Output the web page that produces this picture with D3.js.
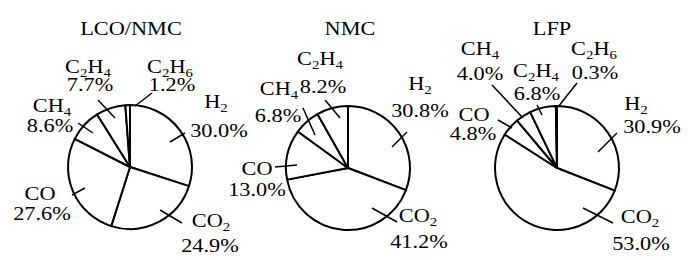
<!DOCTYPE html>
<html>
<head>
<meta charset="utf-8">
<script src="https://cdn.jsdelivr.net/npm/d3@7"></script>
<style>
  body { margin: 0; background: #fff; }
</style>
</head>
<body>
<svg width="700" height="260"></svg>
<script>
// data
const titles = ["LCO/NMC", "NMC", "LFP"];
const gases = ["H2", "CO2", "CO", "CH4", "C2H4", "C2H6"];
const lcoNmcValues = [30.0, 24.9, 27.6, 8.6, 7.7, 1.2];
const nmcValues = [30.8, 41.2, 13.0, 6.8, 8.2, null];
const lfpValues = [30.9, 53.0, 4.8, 4.0, 6.8, 0.3];

// layout of the three pies and their labels (offsets from each pie centre)
const centers = [[130, 167], [348, 168], [557, 168]];
const titleDx = [1, 2, -5];
const R = 62;
// per gas: leader [x1,y1,x2,y2], line1 [x,y], line2 [x,y]
const labelLayout = [
  {
    H2:   { lead: [40, -25, 55, -34], l1: [86, -59], l2: [89, -30] },
    CO2:  { lead: [30, 43, 52, 56],   l1: [81, 60],  l2: [80, 85] },
    CO:   { lead: [-45, 21, -58, 28], l1: [-90, 33], l2: [-88, 53] },
    CH4:  { lead: [-37, -34, -52, -44], l1: [-78, -55], l2: [-80, -35] },
    C2H4: { lead: [-15, -49, -32, -67], l1: [-42, -94], l2: [-40, -76] },
    C2H6: { lead: [5, -61, 22, -74],  l1: [40, -94], l2: [42, -76] }
  },
  {
    H2:   { lead: [44, -21, 59, -36], l1: [72, -78], l2: [72, -51] },
    CO2:  { lead: [24, 40, 49, 54],   l1: [70, 54],  l2: [71, 80] },
    CO:   { lead: [-51, -3, -73, -1], l1: [-91, 7],  l2: [-91, 28] },
    CH4:  { lead: [-33, -33, -45, -60], l1: [-69, -73], l2: [-70, -46] },
    C2H4: { lead: [-8, -50, -23, -68], l1: [-28, -103], l2: [-25, -75] }
  },
  {
    H2:   { lead: [41, -16, 60, -35], l1: [79, -58], l2: [95, -35] },
    CO2:  { lead: [26, 40, 56, 55],   l1: [83, 55],  l2: [84, 82] },
    CO:   { lead: [-45, -40, -59, -48], l1: [-83, -47], l2: [-84, -28] },
    CH4:  { lead: [-34, -50, -65, -83], l1: [-77, -113], l2: [-77, -88] },
    C2H4: { lead: [-15, -53, -20, -63], l1: [-21, -91], l2: [-20, -68] },
    C2H6: { lead: [1, -61, 20, -85],  l1: [37, -113], l2: [38, -89] }
  }
];

const FONT = "'Liberation Serif', 'Times New Roman', serif";
const FS = 18, SUB = 12, SHIFT = 4, STRETCH = 1.24;

const svg = d3.select("svg");
const pie = d3.pie().sort(null).value(d => d.value);
const arc = d3.arc().innerRadius(0).outerRadius(R);

// write a formula, digits as subscripts
function formula(textSel, str) {
  let shifted = false;
  str.split(/(\d)/).filter(s => s !== "").forEach(part => {
    const isDigit = /\d/.test(part);
    const t = textSel.append("tspan").text(part);
    if (isDigit) {
      t.style("font-size", SUB + "px").attr("dy", shifted ? 0 : SHIFT);
      shifted = true;
    } else {
      t.style("font-size", FS + "px").attr("dy", shifted ? -SHIFT : 0);
      shifted = false;
    }
  });
}

function stretchedText(g, x, y) {
  return g.append("text")
    .attr("text-anchor", "middle")
    .style("font-family", FONT)
    .style("font-size", FS + "px")
    .style("fill", "#000")
    .attr("transform", "translate(" + x + "," + y + ") scale(" + STRETCH + ",1)");
}

[lcoNmcValues, nmcValues, lfpValues].forEach((values, i) => {
  const data = gases.map((g, j) => ({ gas: g, value: values[j] })).filter(d => d.value != null);
  const g = svg.append("g")
    .attr("transform", "translate(" + centers[i][0] + "," + centers[i][1] + ")");

  stretchedText(g, titleDx[i], 35 - centers[i][1]).text(titles[i]);

  g.selectAll("path.slice")
    .data(pie(data))
    .enter()
    .append("path")
    .attr("class", "slice")
    .attr("d", arc)
    .attr("fill", "#fff")
    .attr("stroke", "#000")
    .attr("stroke-width", 2)
    .attr("stroke-linejoin", "round");

  const lab = g.selectAll("g.lab")
    .data(data)
    .enter()
    .append("g")
    .attr("class", "lab");

  lab.append("line")
    .attr("x1", d => labelLayout[i][d.gas].lead[0])
    .attr("y1", d => labelLayout[i][d.gas].lead[1])
    .attr("x2", d => labelLayout[i][d.gas].lead[2])
    .attr("y2", d => labelLayout[i][d.gas].lead[3])
    .attr("stroke", "#000")
    .attr("stroke-width", 1.5);

  lab.each(function (d) {
    const L = labelLayout[i][d.gas];
    const sel = d3.select(this);
    formula(stretchedText(sel, L.l1[0], L.l1[1]), d.gas);
    stretchedText(sel, L.l2[0], L.l2[1]).text(d.value.toFixed(1) + "%");
  });
});
</script>
</body>
</html>
